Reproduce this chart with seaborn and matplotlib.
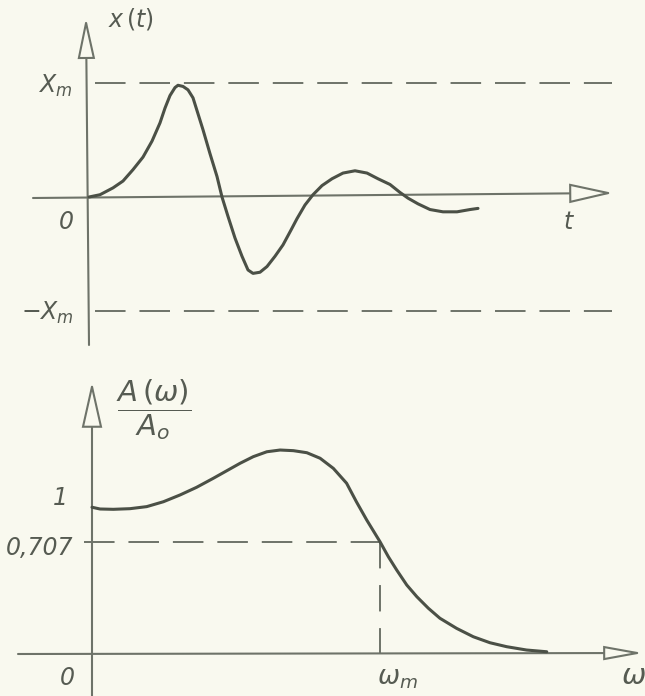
import matplotlib
matplotlib.use("Agg")
import matplotlib.pyplot as plt
import seaborn as sns
import pandas as pd
from matplotlib.patches import FancyArrowPatch

# ---------------- data ----------------
# upper graph: transient response x(t), in units of X_m
t_vals = [0.0, 0.11, 0.24, 0.34, 0.44, 0.54, 0.63, 0.71, 0.76, 0.81, 0.86, 0.89,
          0.94, 0.99, 1.04, 1.09, 1.14, 1.21, 1.28, 1.33, 1.39, 1.46, 1.53, 1.59,
          1.64, 1.71, 1.78, 1.86, 1.94, 2.02, 2.08, 2.16, 2.24, 2.33, 2.43, 2.54,
          2.66, 2.78, 2.89, 3.01, 3.11, 3.19, 3.29, 3.41, 3.54, 3.68, 3.81, 3.89]
x_vals = [0.0, 0.02, 0.08, 0.14, 0.24, 0.35, 0.49, 0.65, 0.78, 0.89, 0.96, 0.98,
          0.97, 0.94, 0.87, 0.73, 0.59, 0.38, 0.18, 0.00, -0.17, -0.36, -0.52, -0.64,
          -0.67, -0.66, -0.61, -0.52, -0.42, -0.29, -0.19, -0.07, 0.02, 0.10, 0.16, 0.21,
          0.23, 0.21, 0.16, 0.11, 0.04, -0.01, -0.06, -0.11, -0.13, -0.13, -0.11, -0.10]
x_levels = [1.0, -1.0]            # X_m and -X_m
x_level_labels = ["$X_m$", "$-X_m$"]

# lower graph: amplitude response A(w)/A0, w in units of w_m
omega_vals = [0.0, 0.028, 0.074, 0.132, 0.190, 0.248, 0.306, 0.363, 0.421, 0.468,
              0.514, 0.560, 0.607, 0.653, 0.699, 0.746, 0.792, 0.838, 0.884, 0.918,
              0.954, 1.0, 1.029, 1.058, 1.093, 1.128, 1.168, 1.208, 1.266, 1.324,
              1.382, 1.440, 1.509, 1.579]
amp_vals = [0.925, 0.914, 0.912, 0.916, 0.929, 0.960, 1.003, 1.051, 1.108, 1.156,
            1.203, 1.245, 1.276, 1.287, 1.283, 1.270, 1.235, 1.171, 1.077, 0.960,
            0.844, 0.707, 0.612, 0.528, 0.433, 0.359, 0.286, 0.223, 0.159, 0.106,
            0.068, 0.043, 0.022, 0.011]
cutoff_level = 0.707
omega_m = 1.0
amp_tick_labels = ["1", "0,707"]

# ---------------- style ----------------
sns.set_theme(style="white")
plt.rcParams["font.family"] = ["DejaVu Sans"]
plt.rcParams["mathtext.fontset"] = "dejavusans"

BG = "#f9f9ef"
INK = "#4b5046"
AXC = "#6e7369"
TXT = "#565b52"
FS = 17

fig = plt.figure(figsize=(6.45, 6.96), dpi=100, facecolor=BG)
ax1 = fig.add_axes([0, 1 - 350 / 696, 1, 350 / 696])
ax2 = fig.add_axes([0, 0, 1, 346 / 696])
for ax in (ax1, ax2):
    ax.set_facecolor(BG)
    ax.set_axis_off()

# pixel -> data helpers (layout only)
def top_xy(px, py):
    return (px - 89) / 100.0, (197 - py) / 114.0

def bot_xy(px, py):
    return (px - 92) / 288.0, (653.5 - py) / 158.1

ax1.set_xlim(top_xy(0, 0)[0], top_xy(645, 0)[0])
ax1.set_ylim(top_xy(0, 350)[1], top_xy(0, 0)[1])
ax2.set_xlim(bot_xy(0, 0)[0], bot_xy(645, 0)[0])
ax2.set_ylim(bot_xy(0, 696)[1], bot_xy(0, 350)[1])


def arrow(ax, start, end, hl_px, hw_px, lw=1.5):
    p = FancyArrowPatch(start, end,
                        arrowstyle=f"-|>,head_length={hl_px * 0.72},head_width={hw_px * 0.72}",
                        mutation_scale=1, fc=BG, ec=AXC, lw=lw,
                        shrinkA=0, shrinkB=0, joinstyle="miter", zorder=2)
    ax.add_patch(p)


dash = (0, (22 / 1.4, 10 / 1.4))

# ---------------- upper graph ----------------
arrow(ax1, top_xy(89, 345), top_xy(86, 18), 35, 7.5)
arrow(ax1, top_xy(33, 198), top_xy(613, 193), 38, 8.5)

tl, tr = top_xy(95, 0)[0], top_xy(612, 0)[0]
for lev in x_levels:
    ax1.plot([tl, tr], [lev, lev], color=AXC, lw=1.4, ls=dash, zorder=1)

df1 = pd.DataFrame({"t": t_vals, "x": x_vals})
sns.lineplot(data=df1, x="t", y="x", ax=ax1, color=INK, lw=2.2, sort=False,
             estimator=None, zorder=3)
ax1.lines[-1].set_solid_joinstyle("round")
ax1.lines[-1].set_solid_capstyle("round")

ax1.text(*top_xy(131, 19), "$x\\,(t)$", fontsize=FS, color=TXT, ha="center", va="center")
ax1.text(*top_xy(55, 86), x_level_labels[0], fontsize=FS, color=TXT, ha="center", va="center")
ax1.text(*top_xy(47, 313), x_level_labels[1], fontsize=FS, color=TXT, ha="center", va="center")
ax1.text(*top_xy(66, 222), "0", fontsize=FS, color=TXT, ha="center", va="center", style="italic")
ax1.text(*top_xy(569, 222), "$t$", fontsize=FS, color=TXT, ha="center", va="center")

# ---------------- lower graph ----------------
arrow(ax2, bot_xy(92, 696), bot_xy(92, 382), 40, 9)
arrow(ax2, bot_xy(18, 654), bot_xy(643, 653), 33, 6)

ax2.plot([bot_xy(84, 0)[0], omega_m], [cutoff_level, cutoff_level],
         color=AXC, lw=1.4, ls=dash, zorder=1)
ax2.plot([omega_m, omega_m], [cutoff_level, 0], color=AXC, lw=1.4,
         ls=(0, (19 / 1.4, 12 / 1.4)), zorder=1)

df2 = pd.DataFrame({"w": omega_vals, "a": amp_vals})
sns.lineplot(data=df2, x="w", y="a", ax=ax2, color=INK, lw=2.2, sort=False,
             estimator=None, zorder=3)
ax2.lines[-1].set_solid_joinstyle("round")
ax2.lines[-1].set_solid_capstyle("round")

ax2.text(*bot_xy(154, 410), r"$\dfrac{A\,(\omega)}{A_o}$", fontsize=FS + 4, color=TXT,
         ha="center", va="center")
ax2.text(*bot_xy(60, 498), amp_tick_labels[0], fontsize=FS, color=TXT, ha="center",
         va="center", style="italic")
ax2.text(*bot_xy(40, 548), amp_tick_labels[1], fontsize=FS, color=TXT, ha="center",
         va="center", style="italic")
ax2.text(*bot_xy(67, 678), "0", fontsize=FS, color=TXT, ha="center", va="center",
         style="italic")
ax2.text(*bot_xy(397, 678), r"$\omega_m$", fontsize=FS + 2, color=TXT, ha="center",
         va="center")
ax2.text(*bot_xy(621, 676), r"$\omega$", fontsize=FS + 4, color=TXT, ha="left",
         va="center")

fig.savefig("out.png", dpi=100, facecolor=BG)
